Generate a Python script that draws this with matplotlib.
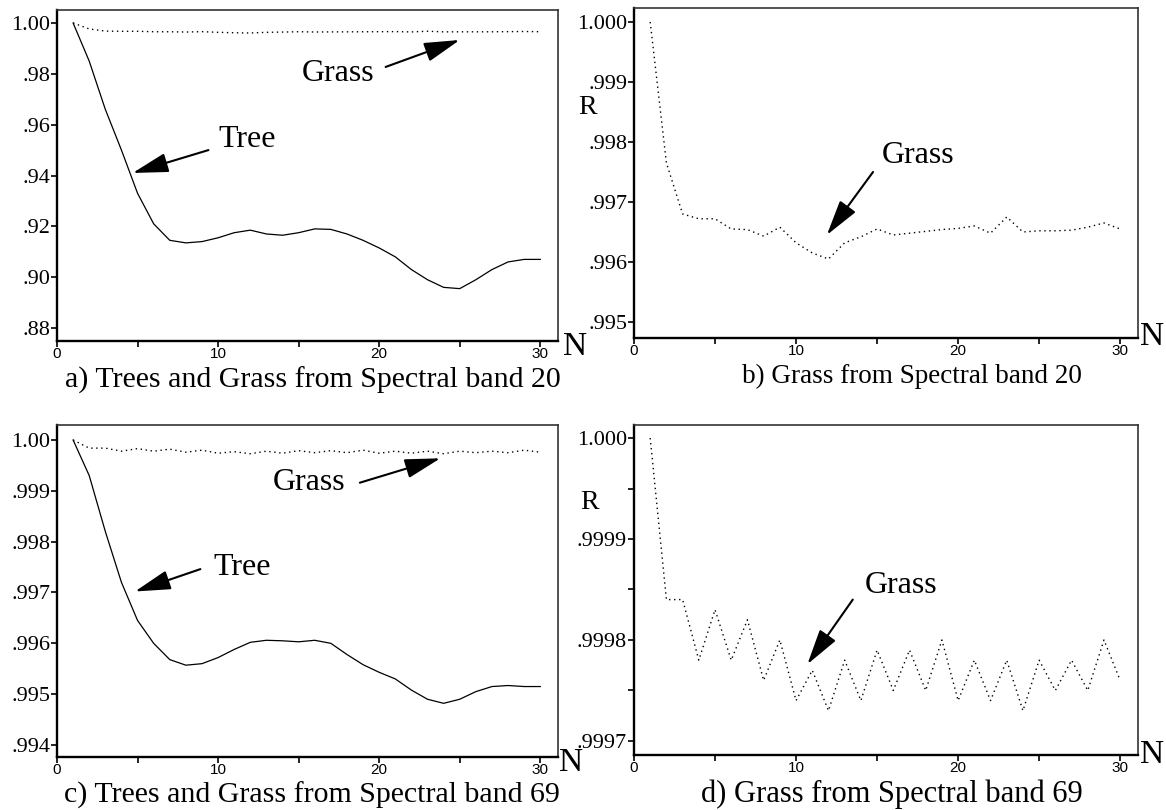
import matplotlib
matplotlib.use("Agg")
import matplotlib.pyplot as plt
from matplotlib.ticker import FixedLocator

plt.rcParams.update({
    "font.family": "Liberation Serif",
    "axes.linewidth": 1.4,
})

FIG_W, FIG_H = 1166, 810

# ---- data ------------------------------------------------------------ #
n_vals = list(range(1, 31))

tree_band20 = [1.000, 0.985, 0.966, 0.950, 0.933, 0.921, 0.9145, 0.9135, 0.914, 0.9155,
               0.9175, 0.9185, 0.917, 0.9165, 0.9175, 0.919, 0.9188, 0.917, 0.9145, 0.9115,
               0.908, 0.903, 0.899, 0.896, 0.8955, 0.899, 0.903, 0.906, 0.907, 0.907]

grass_band20 = [1.0000, 0.99765, 0.99680, 0.99672, 0.99672, 0.99655, 0.99654, 0.99643, 0.99658, 0.99632,
                0.99615, 0.99605, 0.99632, 0.99642, 0.99655, 0.99645, 0.99648, 0.99651, 0.99654, 0.99656,
                0.99660, 0.99648, 0.99675, 0.99650, 0.99652, 0.99652, 0.99653, 0.99658, 0.99665, 0.99655]

tree_band69 = [1.0000, 0.9993, 0.9982, 0.9972, 0.99645, 0.9960, 0.99568, 0.99557, 0.99560, 0.99572,
               0.99588, 0.99602, 0.99606, 0.99605, 0.99603, 0.99606, 0.99600, 0.99578, 0.99558, 0.99543,
               0.99530, 0.99508, 0.99490, 0.99482, 0.99490, 0.99505, 0.99515, 0.99517, 0.99515, 0.99515]

grass_band69 = [1.00000, 0.99984, 0.99984, 0.99978, 0.99983, 0.99978, 0.99982, 0.99976, 0.99980, 0.99974,
                0.99977, 0.99973, 0.99978, 0.99974, 0.99979, 0.99975, 0.99979, 0.99975, 0.99980, 0.99974,
                0.99978, 0.99974, 0.99978, 0.99973, 0.99978, 0.99975, 0.99978, 0.99975, 0.99980, 0.99976]

x_major = [0, 10, 20, 30]
x_minor = [5, 15, 25]

a_yticks = [0.88, 0.90, 0.92, 0.94, 0.96, 0.98, 1.00]
a_ylabels = [".88", ".90", ".92", ".94", ".96", ".98", "1.00"]
b_yticks = [0.995, 0.996, 0.997, 0.998, 0.999, 1.000]
b_ylabels = [".995", ".996", ".997", ".998", ".999", "1.000"]
c_yticks = [0.994, 0.995, 0.996, 0.997, 0.998, 0.999, 1.000]
c_ylabels = [".994", ".995", ".996", ".997", ".998", ".999", "1.00"]
d_yticks = [0.9997, 0.99975, 0.9998, 0.99985, 0.9999, 0.99995, 1.0000]
d_ylabels = [".9997", "", ".9998", "", ".9999", "", "1.000"]

captions = [
    "a) Trees and Grass from Spectral band 20",
    "b) Grass from Spectral band 20",
    "c) Trees and Grass from Spectral band 69",
    "d) Grass from Spectral band 69",
]


def box(left, top, right, bottom):
    """pixel box -> figure fraction rect"""
    return [left / FIG_W, 1 - bottom / FIG_H, (right - left) / FIG_W, (bottom - top) / FIG_H]


def fxy(x, y):
    return x / FIG_W, 1 - y / FIG_H


def setup(ax, ylim, yticks, ylabels):
    ax.set_xlim(0, 31.1)
    ax.set_ylim(*ylim)
    ax.xaxis.set_major_locator(FixedLocator(x_major))
    ax.xaxis.set_minor_locator(FixedLocator(x_minor))
    ax.set_xticklabels([str(v) for v in x_major], fontfamily="Liberation Sans", fontsize=11)
    ax.set_yticks(yticks)
    ax.set_yticklabels(ylabels, fontsize=16)
    ax.tick_params(axis="y", direction="out", length=4, width=1.2, pad=1)
    ax.tick_params(axis="x", which="both", direction="out", length=4, width=1.2, pad=0.5)
    for side in ("left", "bottom"):
        ax.spines[side].set_linewidth(1.7)
    for side in ("top", "right"):
        ax.spines[side].set_linewidth(1.2)
        ax.spines[side].set_color("#333333")


def arrow(ax, tail, tip):
    ax.annotate("", xy=tip, xytext=tail,
                arrowprops=dict(arrowstyle="-|>,head_length=2.2,head_width=0.6",
                                mutation_scale=10, lw=1.5, color="black",
                                shrinkA=0, shrinkB=0))


solid = dict(color="black", lw=0.9)
dotted = dict(color="black", lw=1.0, linestyle=(0, (1, 2.6)))

fig = plt.figure(figsize=(11.66, 8.10), dpi=100)

# a) trees and grass, band 20
ax_a = fig.add_axes(box(57, 10, 558, 341))
ax_a.plot(n_vals, tree_band20, **solid)
ax_a.plot(n_vals, grass_band20, **dotted)
setup(ax_a, (0.8749, 1.0051), a_yticks, a_ylabels)
ax_a.text(10.0, 0.954, "Tree", fontsize=23, va="center", ha="left")
arrow(ax_a, (9.4, 0.950), (4.7, 0.941))
ax_a.text(15.2, 0.9803, "Grass", fontsize=23, va="center", ha="left")
arrow(ax_a, (20.4, 0.9827), (25.0, 0.9933))

# b) grass, band 20
ax_b = fig.add_axes(box(634, 8, 1138, 338))
ax_b.plot(n_vals, grass_band20, **dotted)
setup(ax_b, (0.994733, 1.000233), b_yticks, b_ylabels)
ax_b.text(15.3, 0.99777, "Grass", fontsize=23, va="center", ha="left")
arrow(ax_b, (14.75, 0.9975), (11.9, 0.99645))

# c) trees and grass, band 69
ax_c = fig.add_axes(box(57, 425, 558, 757))
ax_c.plot(n_vals, tree_band69, **solid)
ax_c.plot(n_vals, grass_band69, **dotted)
setup(ax_c, (0.993764, 1.000295), c_yticks, c_ylabels)
ax_c.text(9.7, 0.9975, "Tree", fontsize=23, va="center", ha="left")
arrow(ax_c, (8.9, 0.99746), (4.84, 0.99702))
ax_c.text(13.4, 0.99916, "Grass", fontsize=23, va="center", ha="left")
arrow(ax_c, (18.8, 0.99916), (23.8, 0.99964))

# d) grass, band 69
ax_d = fig.add_axes(box(634, 425, 1138, 755))
ax_d.plot(n_vals, grass_band69, **dotted)
setup(ax_d, (0.9996861, 1.0000129), d_yticks, d_ylabels)
ax_d.text(14.26, 0.999854, "Grass", fontsize=23, va="center", ha="left")
arrow(ax_d, (13.5, 0.99984), (10.7, 0.999776))

# axis letters
for (x, y) in [(575, 347), (1152, 337), (571, 763), (1152, 755)]:
    fig.text(*fxy(x, y), "N", fontsize=24, ha="center", va="center")
for (x, y) in [(588, 108), (590, 502)]:
    fig.text(*fxy(x, y), "R", fontsize=20, ha="center", va="center")

# captions
for text, (x, y), size in zip(captions,
                              [(313, 380), (912, 376), (312, 795), (892, 794)],
                              [21.5, 19.5, 21.5, 22]):
    fig.text(*fxy(x, y), text, fontsize=size, ha="center", va="center")

fig.savefig("out.png", dpi=100)
